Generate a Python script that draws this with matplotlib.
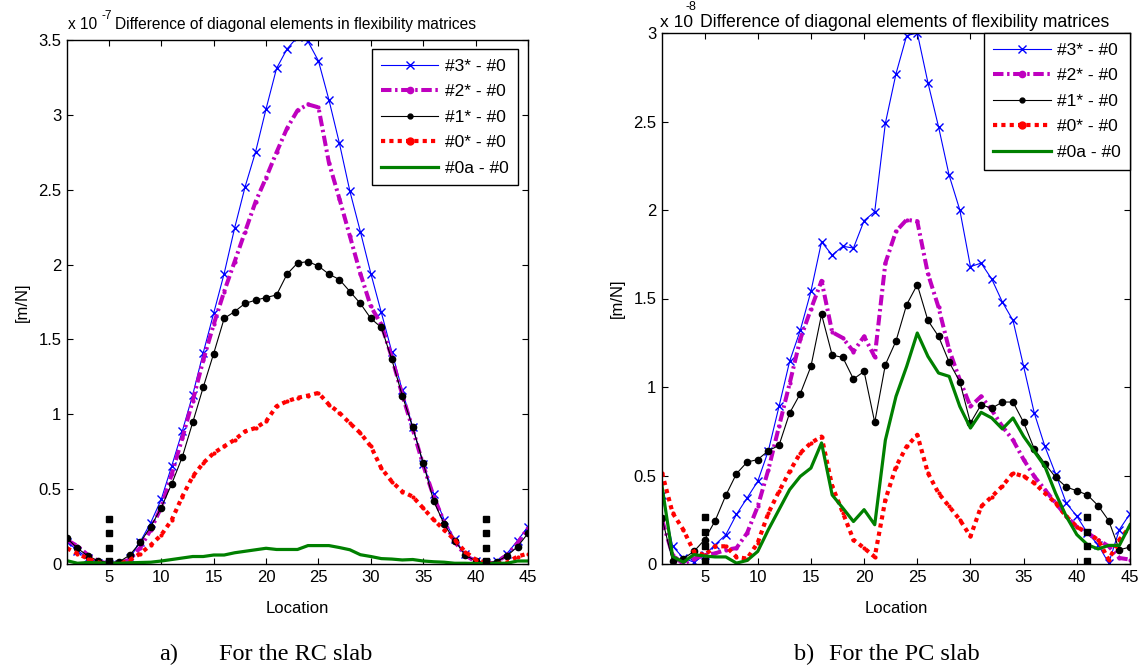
import numpy as np
import matplotlib
matplotlib.use("Agg")
import matplotlib.pyplot as plt

plt.rcParams['font.family'] = ['Liberation Sans', 'DejaVu Sans']

loc = np.arange(1, 46)

# RC slab, units of 1e-7 m/N
rc_3s = [0.15, 0.09, 0.04, 0.01, 0.0, 0.0, 0.04, 0.15, 0.277, 0.433, 0.656, 0.886, 1.13, 1.41, 1.675,
         1.94, 2.244, 2.52, 2.753, 3.04, 3.31, 3.44, 3.52, 3.49, 3.36, 3.10, 2.81, 2.49, 2.22, 1.94,
         1.68, 1.418, 1.16, 0.913, 0.668, 0.47, 0.295, 0.165, 0.067, 0.022, 0.005, 0.022, 0.07, 0.156, 0.25]
rc_2s = [0.16, 0.12, 0.06, 0.02, 0.0, 0.005, 0.03, 0.11, 0.23, 0.38, 0.60, 0.84, 1.09, 1.36, 1.60,
         1.82, 2.02, 2.22, 2.42, 2.58, 2.75, 2.91, 3.03, 3.07, 3.05, 2.68, 2.44, 2.19, 1.94, 1.72,
         1.60, 1.38, 1.13, 0.90, 0.66, 0.45, 0.28, 0.15, 0.06, 0.015, 0.0, 0.015, 0.06, 0.14, 0.24]
rc_1s = [0.172, 0.105, 0.054, 0.02, 0.01, 0.015, 0.06, 0.145, 0.25, 0.377, 0.536, 0.714, 0.946, 1.18, 1.406,
         1.64, 1.686, 1.741, 1.762, 1.78, 1.797, 1.936, 2.01, 2.02, 1.99, 1.936, 1.90, 1.82, 1.74, 1.64,
         1.58, 1.366, 1.125, 0.913, 0.674, 0.42, 0.266, 0.156, 0.06, 0.02, 0.005, 0.016, 0.054, 0.116, 0.205]
rc_0s = [0.105, 0.07, 0.035, 0.01, 0.0, 0.0, 0.027, 0.07, 0.127, 0.194, 0.295, 0.45, 0.585, 0.674, 0.741,
         0.786, 0.83, 0.886, 0.909, 0.953, 1.054, 1.087, 1.11, 1.125, 1.143, 1.065, 1.01, 0.94, 0.875, 0.786,
         0.64, 0.551, 0.484, 0.45, 0.373, 0.295, 0.228, 0.161, 0.082, 0.03, 0.005, 0.0, 0.01, 0.05, 0.07]
rc_0a = [0.022, 0.005, 0.01, 0.008, 0.005, 0.005, 0.008, 0.01, 0.012, 0.02, 0.03, 0.04, 0.05, 0.05, 0.06,
         0.06, 0.075, 0.085, 0.095, 0.105, 0.097, 0.097, 0.097, 0.123, 0.123, 0.123, 0.11, 0.095, 0.062, 0.05,
         0.036, 0.033, 0.027, 0.03, 0.02, 0.015, 0.012, 0.005, 0.005, 0.003, 0.003, 0.005, 0.005, 0.02, 0.02]

# PC slab, units of 1e-8 m/N
pc_3s = [0.39, 0.10, 0.034, 0.01, 0.05, 0.11, 0.165, 0.28, 0.373, 0.467, 0.64, 0.89, 1.145, 1.32, 1.54,
         1.82, 1.745, 1.795, 1.785, 1.94, 1.99, 2.49, 2.77, 2.985, 3.0, 2.72, 2.47, 2.195, 2.0, 1.68,
         1.70, 1.61, 1.48, 1.376, 1.116, 0.853, 0.664, 0.51, 0.345, 0.27, 0.175, 0.109, 0.005, 0.194, 0.284]
pc_2s = [0.25, 0.05, 0.0, 0.03, 0.05, 0.06, 0.08, 0.09, 0.175, 0.325, 0.533, 0.777, 1.02, 1.27, 1.44,
         1.60, 1.31, 1.277, 1.20, 1.286, 1.17, 1.70, 1.88, 1.945, 1.936, 1.64, 1.45, 1.21, 1.04, 0.89,
         0.947, 0.87, 0.777, 0.70, 0.59, 0.495, 0.42, 0.345, 0.27, 0.21, 0.175, 0.137, 0.10, 0.034, 0.025]
pc_1s = [0.26, 0.015, 0.03, 0.071, 0.137, 0.245, 0.388, 0.51, 0.576, 0.59, 0.64, 0.67, 0.853, 0.962, 1.116,
         1.41, 1.18, 1.167, 1.045, 1.088, 0.80, 1.126, 1.26, 1.465, 1.578, 1.376, 1.286, 1.14, 1.03, 0.797,
         0.9, 0.88, 0.915, 0.915, 0.80, 0.65, 0.567, 0.49, 0.435, 0.414, 0.39, 0.33, 0.245, 0.08, 0.096]
pc_0s = [0.514, 0.288, 0.194, 0.07, 0.05, 0.10, 0.10, 0.04, 0.03, 0.12, 0.288, 0.41, 0.523, 0.627, 0.684,
         0.72, 0.44, 0.29, 0.137, 0.09, 0.04, 0.363, 0.55, 0.664, 0.73, 0.514, 0.40, 0.325, 0.25, 0.156,
         0.325, 0.38, 0.44, 0.514, 0.495, 0.458, 0.40, 0.345, 0.27, 0.21, 0.175, 0.137, 0.024, 0.137, 0.21]
pc_0a = [0.44, 0.043, 0.01, 0.053, 0.045, 0.04, 0.04, 0.005, 0.02, 0.071, 0.194, 0.307, 0.42, 0.495, 0.542,
         0.684, 0.39, 0.316, 0.24, 0.307, 0.222, 0.70, 0.947, 1.116, 1.305, 1.173, 1.079, 1.06, 0.89, 0.768,
         0.857, 0.825, 0.763, 0.825, 0.721, 0.636, 0.551, 0.40, 0.27, 0.166, 0.109, 0.085, 0.105, 0.105, 0.222]

# support locations and their marker stacks
support_loc = [5, 41]
rc_support_y = [0.02, 0.11, 0.205, 0.30]
pc_support_y = [0.017, 0.10, 0.183, 0.263]

labels = ['#3* - #0', '#2* - #0', '#1* - #0', '#0* - #0', '#0a - #0']
xticks = [5, 10, 15, 20, 25, 30, 35, 40, 45]
rc_yticks = [0, 0.5, 1, 1.5, 2, 2.5, 3, 3.5]
rc_yticklabels = ['0', '0.5', '1', '1.5', '2', '2.5', '3', '3.5']
pc_yticks = [0, 0.5, 1, 1.5, 2, 2.5, 3]
pc_yticklabels = ['0', '0.5', '1', '1.5', '2', '2.5', '3']

W, H = 1144, 669
fig = plt.figure(figsize=(W / 100, H / 100), dpi=100)


def px_box(x0, y0, x1, y1):
    return [x0 / W, 1 - y1 / H, (x1 - x0) / W, (y1 - y0) / H]


ax1 = fig.add_axes(px_box(67, 40, 528, 564))
ax2 = fig.add_axes(px_box(662, 33, 1130, 564))

MAG = '#BF00BF'
GRN = '#008000'


def draw(ax, s3, s2, s1, s0, s0a, sup_y, ymax, yt, ytl, leg_anchor):
    l3, = ax.plot(loc, s3, color='blue', lw=0.8, marker='x', ms=6, mew=1.0)
    l2, = ax.plot(loc, s2, color=MAG, lw=2.9, ls=(0, (2.6, 0.9, 0.6, 0.9)), marker='.', ms=4)
    l1, = ax.plot(loc, s1, color='black', lw=0.8, marker='.', ms=9)
    l0, = ax.plot(loc, s0, color='red', lw=3.0, ls=(0, (1.0, 1.0)), marker='.', ms=4)
    l0a, = ax.plot(loc, s0a, color=GRN, lw=2.3)
    for xs in support_loc:
        ax.plot([xs] * len(sup_y), sup_y, ls='none', marker='s', ms=4.5, color='black')
    ax.set_xlim(1, 45)
    ax.set_ylim(0, ymax)
    ax.set_xticks(xticks)
    ax.set_xticklabels([str(v) for v in xticks])
    ax.set_yticks(yt)
    ax.set_yticklabels(ytl)
    ax.tick_params(direction='in', length=4, width=0.8, top=True, right=True,
                   labelsize=12, pad=4)
    for sp in ax.spines.values():
        sp.set_linewidth(1.0)
    ax.set_xlabel('Location', fontsize=12, labelpad=12)
    ax.set_ylabel('[m/N]', fontsize=12, labelpad=6)
    leg = ax.legend([l3, l2, l1, l0, l0a], labels, loc='upper right',
                    bbox_to_anchor=leg_anchor, borderaxespad=0, fontsize=12.5,
                    numpoints=1, handlelength=3.3, handletextpad=0.35,
                    labelspacing=0.6, borderpad=0.55, fancybox=False,
                    framealpha=1, edgecolor='black')
    leg.get_frame().set_linewidth(1.0)
    for h in leg.legend_handles:
        if h.get_color() == 'red':
            h.set_markersize(10)
        elif h.get_color() == MAG:
            h.set_markersize(9)
        elif h.get_color() == 'black':
            h.set_markersize(7)


draw(ax1, rc_3s, rc_2s, rc_1s, rc_0s, rc_0a, rc_support_y, 3.5,
     rc_yticks, rc_yticklabels, (0.978, 0.983))
draw(ax2, pc_3s, pc_2s, pc_1s, pc_0s, pc_0a, pc_support_y, 3.0,
     pc_yticks, pc_yticklabels, (1.0, 1.0))

# exponent marks and titles above each panel
fig.text(68 / W, 1 - 29 / H, 'x 10', fontsize=11.2, va='baseline')
fig.text(101 / W, 1 - 19 / H, '-7', fontsize=8.5, va='baseline')
fig.text(115 / W, 1 - 29 / H, 'Difference of diagonal elements in flexibility matrices',
         fontsize=11.2, va='baseline')

fig.text(660 / W, 1 - 27 / H, 'x 10', fontsize=12.5, va='baseline')
fig.text(686 / W, 1 - 10 / H, '-8', fontsize=9, va='baseline')
fig.text(700 / W, 1 - 27 / H, 'Difference of diagonal elements of flexibility matrices',
         fontsize=12.7, va='baseline')

cap_kw = dict(fontsize=17.5, family='Liberation Serif', va='baseline')
fig.text(159 / W, 1 - 660 / H, 'a)', **cap_kw)
fig.text(219 / W, 1 - 660 / H, 'For the RC slab', **cap_kw)
fig.text(794 / W, 1 - 660 / H, 'b)', **cap_kw)
fig.text(829 / W, 1 - 660 / H, 'For the PC slab', **cap_kw)

fig.savefig('out.png', dpi=100, facecolor='white')
